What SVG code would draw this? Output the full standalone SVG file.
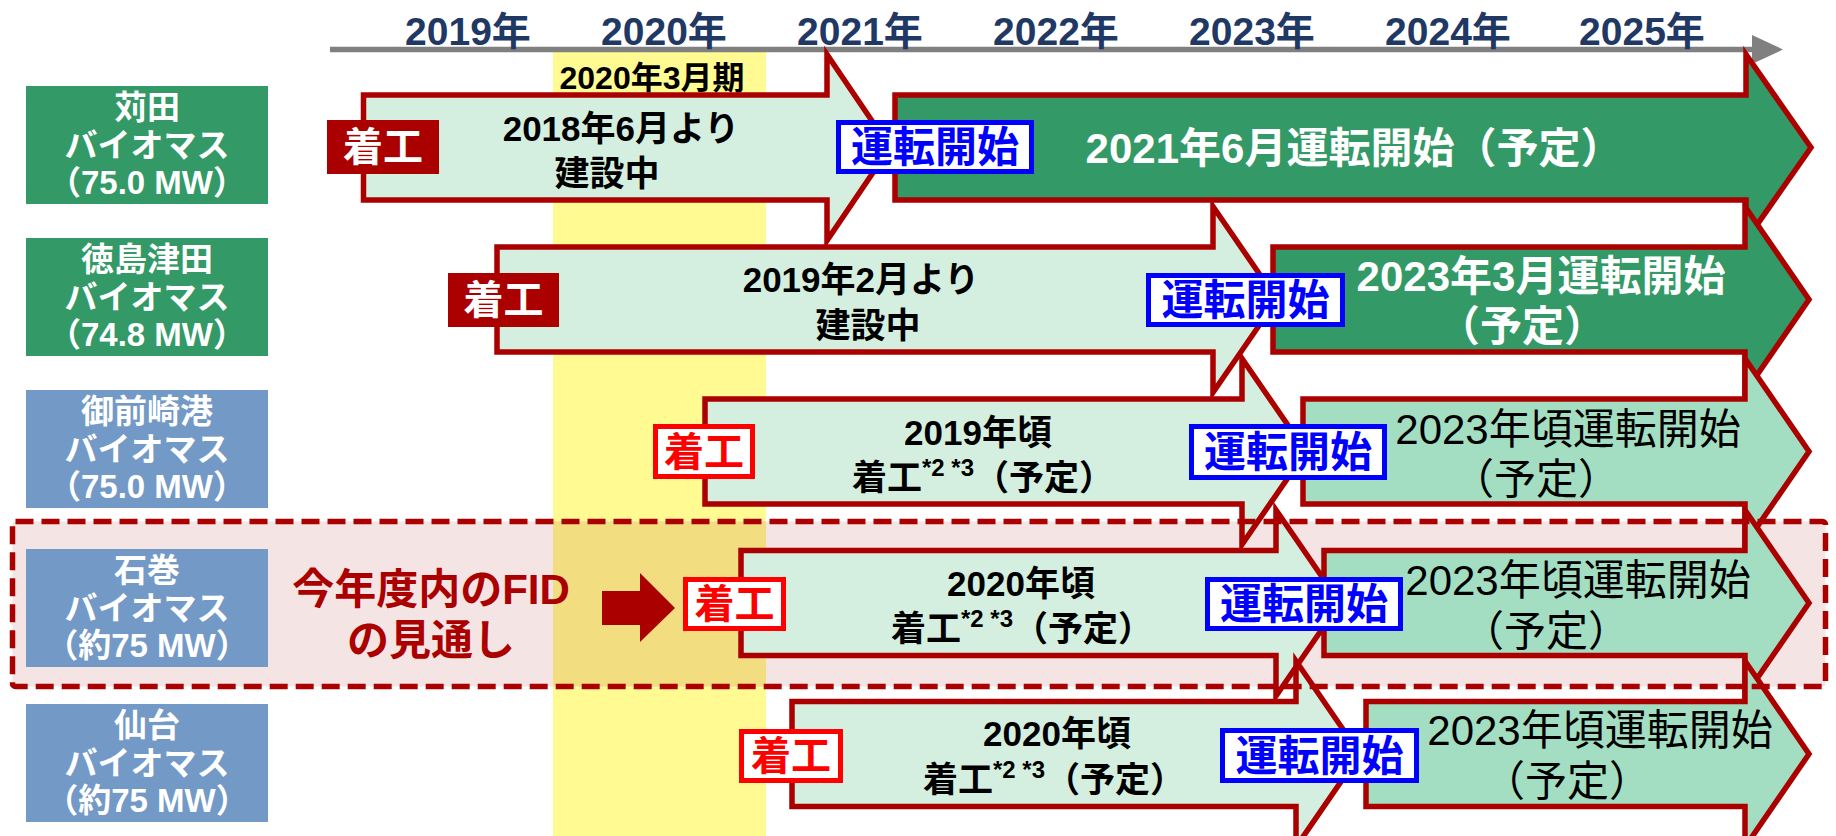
<svg xmlns="http://www.w3.org/2000/svg" width="1836" height="836" viewBox="0 0 1836 836">
<style>
text{font-family:'Liberation Sans','Noto Sans CJK JP',sans-serif;}
.yr{font-size:39px;font-weight:bold;fill:#1F3864;text-anchor:middle}
.lbl{font-size:33px;font-weight:bold;fill:#fff;text-anchor:middle}
.g{fill:#339966}
.b{fill:#7399C6}
.la{fill:#D4EFDF;stroke:#AB0000;stroke-width:5.5}
.da{fill:#339966;stroke:#AB0000;stroke-width:5.5}
.ma{fill:#A3DEC3;stroke:#AB0000;stroke-width:5.5}
.kd{fill:#AB0000}
.kdt{font-size:40px;font-weight:bold;fill:#fff;text-anchor:middle}
.kr{fill:#fff;stroke:#FF0000;stroke-width:5}
.krt{font-size:40px;font-weight:bold;fill:#FF0000;text-anchor:middle}
.un{fill:#fff;stroke:#0000FF;stroke-width:5}
.unt{font-size:42px;font-weight:bold;fill:#0000FF;text-anchor:middle}
.mt{font-size:35px;font-weight:bold;fill:#000;text-anchor:middle}
.wt{font-size:42px;font-weight:bold;fill:#fff;text-anchor:middle}
.rt{font-size:42px;fill:#000;text-anchor:middle}
.sup{font-size:24px}
.fid{font-size:42px;font-weight:bold;fill:#AB0000;text-anchor:middle}
</style>

<!-- background bands -->
<g id="period">
<rect x="553" y="52" width="213" height="784" fill="#FFFA91"/>
<text x="652" y="89" font-size="32" font-weight="bold" text-anchor="middle" fill="#000">2020年3月期</text>
</g>
<g id="fid-region-fill">
<rect x="12.5" y="521.5" width="1813" height="165" rx="3" fill="#F5E4E4"/>
<rect x="553" y="521.5" width="213" height="165" fill="#F2DD80"/>
</g>

<!-- timeline -->
<g id="timeline">
<line x1="330" y1="49.5" x2="1755" y2="49.5" stroke="#808080" stroke-width="5.5"/>
<polygon points="1752,35 1783,49.5 1752,64" fill="#808080"/>
<text class="yr" x="468" y="45">2019年</text>
<text class="yr" x="664" y="45">2020年</text>
<text class="yr" x="860" y="45">2021年</text>
<text class="yr" x="1056" y="45">2022年</text>
<text class="yr" x="1252" y="45">2023年</text>
<text class="yr" x="1448" y="45">2024年</text>
<text class="yr" x="1642" y="45">2025年</text>
</g>

<!-- row labels -->
<g id="label-kanda">
<rect class="g" x="26" y="86" width="242" height="118"/>
<text class="lbl" x="147" y="119">苅田</text>
<text class="lbl" x="147" y="157">バイオマス</text>
<text class="lbl" x="147" y="194">（75.0 MW）</text>
</g>
<g id="label-tokushima">
<rect class="g" x="26" y="238" width="242" height="118"/>
<text class="lbl" x="147" y="271">徳島津田</text>
<text class="lbl" x="147" y="309">バイオマス</text>
<text class="lbl" x="147" y="346">（74.8 MW）</text>
</g>
<g id="label-omaezaki">
<rect class="b" x="26" y="390" width="242" height="118"/>
<text class="lbl" x="147" y="423">御前崎港</text>
<text class="lbl" x="147" y="461">バイオマス</text>
<text class="lbl" x="147" y="498">（75.0 MW）</text>
</g>
<g id="label-ishinomaki">
<rect class="b" x="26" y="549" width="242" height="118"/>
<text class="lbl" x="147" y="582">石巻</text>
<text class="lbl" x="147" y="620">バイオマス</text>
<text class="lbl" x="147" y="657">（約75 MW）</text>
</g>
<g id="label-sendai">
<rect class="b" x="26" y="704" width="242" height="118"/>
<text class="lbl" x="147" y="737">仙台</text>
<text class="lbl" x="147" y="775">バイオマス</text>
<text class="lbl" x="147" y="812">（約75 MW）</text>
</g>

<!-- arrows -->
<g id="connectors">
<path class="la" d="M363.5,95 H827 V54.5 L890,147.5 L827,240.5 V200 H363.5 Z"/>
<path class="da" d="M895,95 H1746 V54.5 L1811,147.5 L1746,240.5 V200 H895 Z"/>
<path class="la" d="M497,247 H1213 V206.5 L1277,299.5 L1213,392.5 V352 H497 Z"/>
<path class="da" d="M1273,247 H1745 V206.5 L1809,299.5 L1745,392.5 V352 H1273 Z"/>
<path class="la" d="M705,399 H1242 V358.5 L1306,451.5 L1242,544.5 V504 H705 Z"/>
<path class="ma" d="M1303,399 H1745 V358.5 L1809,451.5 L1745,544.5 V504 H1303 Z"/>
<path class="la" d="M741,550.5 H1276 V510 L1340,603 L1276,696 V655.5 H741 Z"/>
<path class="ma" d="M1324,550.5 H1745 V510 L1809,603 L1745,696 V655.5 H1324 Z"/>
<path class="la" d="M792,701.5 H1296 V661 L1360,754 L1296,847 V806.5 H792 Z"/>
<path class="ma" d="M1366,701.5 H1745 V661 L1809,754 L1745,847 V806.5 H1366 Z"/>
<polygon points="602,591 640,591 640,573 675,608 640,642 640,625 602,625" fill="#AB0000"/>
</g>

<!-- row 1 -->
<g id="kanda-start">
<rect class="kd" x="327" y="120" width="112" height="54"/>
<text class="kdt" x="383" y="161">着工</text>
</g>
<g id="kanda-construction">
<text class="mt" x="621" y="141" font-size="37">2018年6月より</text>
<text class="mt" x="607" y="186" font-size="37">建設中</text>
</g>
<g id="kanda-op">
<rect class="un" x="838.5" y="122.5" width="193" height="49"/>
<text class="unt" x="935" y="162">運転開始</text>
<text class="wt" x="1354" y="163" font-size="41">2021年6月運転開始（予定）</text>
</g>

<!-- row 2 -->
<g id="tokushima-start">
<rect class="kd" x="448" y="273" width="111" height="54"/>
<text class="kdt" x="503.5" y="314">着工</text>
</g>
<g id="tokushima-construction">
<text class="mt" x="861" y="292" font-size="37">2019年2月より</text>
<text class="mt" x="868" y="338" font-size="37">建設中</text>
</g>
<g id="tokushima-op">
<rect class="un" x="1148.5" y="275.5" width="194" height="49"/>
<text class="unt" x="1245.5" y="315">運転開始</text>
<text class="wt" x="1541" y="291">2023年3月運転開始</text>
<text class="wt" x="1522" y="341">（予定）</text>
</g>

<!-- row 3 -->
<g id="omaezaki-start">
<rect class="kr" x="655.5" y="426.5" width="97" height="50"/>
<text class="krt" x="704" y="466">着工</text>
</g>
<g id="omaezaki-construction">
<text class="mt" x="978" y="445">2019年頃</text>
<text class="mt" x="983" y="490">着工<tspan class="sup" dy="-14">*2 *3</tspan><tspan dy="14">（予定）</tspan></text>
</g>
<g id="omaezaki-op">
<rect class="un" x="1191.5" y="426.5" width="193" height="51"/>
<text class="unt" x="1288" y="467">運転開始</text>
<text class="rt" x="1568" y="444">2023年頃運転開始</text>
<text class="rt" x="1536" y="494">（予定）</text>
</g>

<!-- row 4 -->
<g id="ishinomaki-fid">
<text class="fid" x="431" y="604">今年度内のFID</text>
<text class="fid" x="431" y="655">の見通し</text>
</g>
<g id="ishinomaki-start">
<rect class="kr" x="685.5" y="579.5" width="98" height="49"/>
<text class="krt" x="734.5" y="618">着工</text>
</g>
<g id="ishinomaki-construction">
<text class="mt" x="1021" y="596">2020年頃</text>
<text class="mt" x="1022" y="641">着工<tspan class="sup" dy="-14">*2 *3</tspan><tspan dy="14">（予定）</tspan></text>
</g>
<g id="ishinomaki-op">
<rect class="un" x="1207.5" y="579.5" width="193" height="49"/>
<text class="unt" x="1304" y="619">運転開始</text>
<text class="rt" x="1578" y="595">2023年頃運転開始</text>
<text class="rt" x="1546" y="646">（予定）</text>
</g>

<!-- row 5 -->
<g id="sendai-start">
<rect class="kr" x="741.5" y="731.5" width="99" height="49"/>
<text class="krt" x="791" y="770">着工</text>
</g>
<g id="sendai-construction">
<text class="mt" x="1057" y="746">2020年頃</text>
<text class="mt" x="1054" y="792">着工<tspan class="sup" dy="-14">*2 *3</tspan><tspan dy="14">（予定）</tspan></text>
</g>
<g id="sendai-op">
<rect class="un" x="1222.5" y="730.5" width="194" height="50"/>
<text class="unt" x="1319.5" y="771">運転開始</text>
<text class="rt" x="1600" y="745">2023年頃運転開始</text>
<text class="rt" x="1567" y="796">（予定）</text>
</g>

<g id="fid-region-border">
<rect x="12.5" y="521.5" width="1813" height="165" rx="3" fill="none" stroke="#AB0000" stroke-width="5.5" stroke-dasharray="18 8"/>
</g>
</svg>
